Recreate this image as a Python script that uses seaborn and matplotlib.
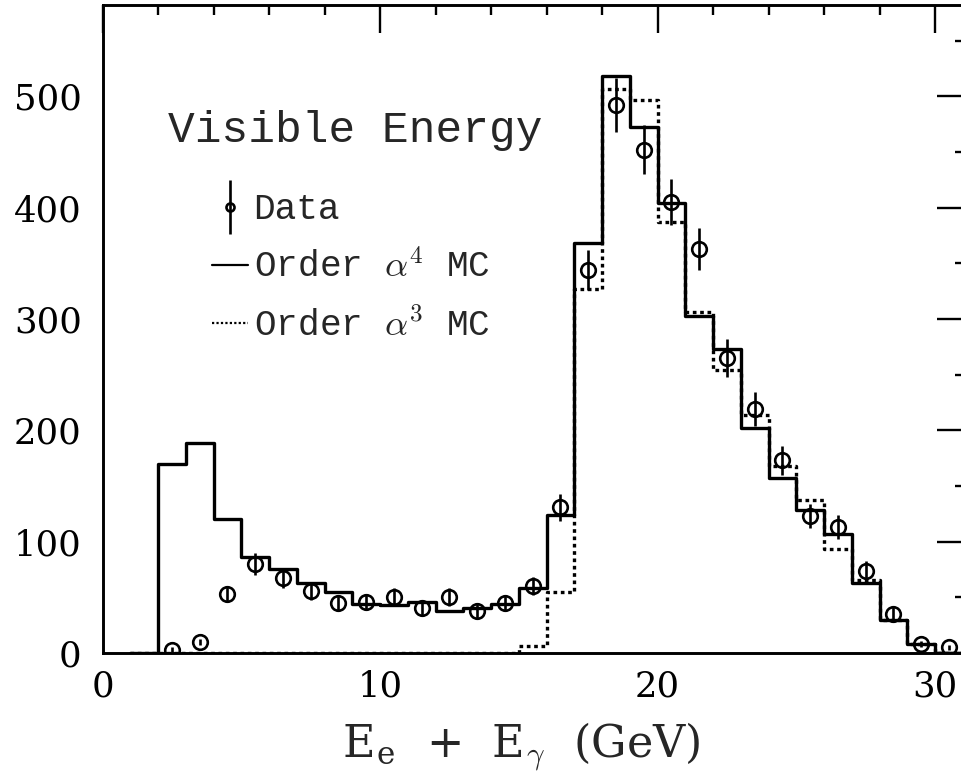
import numpy as np
import pandas as pd
import matplotlib
matplotlib.use("Agg")
import matplotlib.pyplot as plt
import seaborn as sns
from matplotlib.lines import Line2D
from matplotlib.container import ErrorbarContainer
from matplotlib.legend_handler import HandlerErrorbar
from matplotlib.ticker import MultipleLocator

# ---- data ----
bin_centers = [2.5, 3.5, 4.5, 5.5, 6.5, 7.5, 8.5, 9.5, 10.5, 11.5, 12.5, 13.5, 14.5,
               15.5, 16.5, 17.5, 18.5, 19.5, 20.5, 21.5, 22.5, 23.5, 24.5, 25.5,
               26.5, 27.5, 28.5, 29.5]
alpha4_mc = [170, 189, 120, 86, 75, 63, 55, 44, 43, 46, 38, 40, 44,
             58, 124, 368, 518, 472, 404, 303, 273, 202, 157, 128,
             107, 63, 30, 8]
alpha3_mc = [0, 0, 0, 0, 0, 0, 0, 0, 0, 0, 0, 0, 0,
             6, 55, 327, 507, 497, 387, 306, 254, 214, 168, 137,
             93, 66, 30, 8]
data_energy = [2.5, 3.5, 4.5, 5.5, 6.5, 7.5, 8.5, 9.5, 10.5, 11.5, 12.5, 13.5, 14.5,
               15.5, 16.5, 17.5, 18.5, 19.5, 20.5, 21.5, 22.5, 23.5, 24.5, 25.5,
               26.5, 27.5, 28.5, 29.5, 30.5]
data_counts = [3, 10, 53, 80, 67, 56, 45, 46, 50, 40, 50, 38, 45,
               60, 131, 344, 492, 452, 405, 363, 265, 219, 173, 123,
               113, 74, 35, 8, 5]
data_err = [2, 3, 7, 10, 9, 8, 7, 7, 8, 7, 8, 7, 7,
            8, 12, 18, 24, 22, 21, 19, 17, 15, 13, 11,
            11, 9, 6, 3, 2]
x_major = [0, 10, 20, 30]
y_major = [0, 100, 200, 300, 400, 500]
legend_labels = ["Data", r"Order $\alpha^{4}$ MC", r"Order $\alpha^{3}$ MC"]
title_text = "Visible Energy"
x_label = r"E$_\mathregular{e}$  +  E$_\gamma$  (GeV)"

sns.set_style("white")
plt.rcParams["font.family"] = ["DejaVu Serif"]
plt.rcParams["mathtext.fontset"] = "cm"

W, H = 962, 781
fig = plt.figure(figsize=(W / 100, H / 100), dpi=100)
ax = fig.add_axes([102.5 / W, 128 / H, (965 - 102.5) / W, 648 / H])

mc = pd.DataFrame({"energy": bin_centers, "a4": alpha4_mc, "a3": alpha3_mc})
width = bin_centers[1] - bin_centers[0]
brange = (bin_centers[0] - 1.5 * width, bin_centers[-1] + 1.5 * width)

sns.histplot(data=mc, x="energy", weights="a4", binwidth=width, binrange=brange,
             element="step", fill=False, color="black", linewidth=2.4, ax=ax)
sns.histplot(data=mc, x="energy", weights="a3", binwidth=width, binrange=brange,
             element="step", fill=False, color="black", linewidth=2.4,
             linestyle=(0, (1.1, 1.1)), ax=ax)

eb = ax.errorbar(data_energy, data_counts, yerr=data_err, fmt="o", ms=10.5,
                 mfc="none", mec="black", mew=1.9, ecolor="black",
                 elinewidth=1.9, capsize=0, zorder=4)

ax.set_xlim(0, 31.08)
ax.set_ylim(0, 582)
ax.set_xticks(x_major)
ax.set_yticks(y_major)
ax.xaxis.set_minor_locator(MultipleLocator(2))
ax.yaxis.set_minor_locator(MultipleLocator(50))
ax.tick_params(which="both", direction="in", top=True, right=True,
               width=1.7, colors="black", labelsize=25.5)
ax.tick_params(which="major", length=20)
ax.tick_params(which="minor", length=7)
ax.tick_params(axis="x", pad=12)
ax.tick_params(axis="y", pad=15)
for s in ax.spines.values():
    s.set_linewidth(2.1)
    s.set_color("black")

ax.set_ylabel("")
ax.set_xlabel(x_label, fontsize=32, labelpad=12)
ax.xaxis.label.set_x(0.485)

ax.text(0.076, 0.807, title_text, transform=ax.transAxes, ha="left", va="center",
        fontsize=32, family=["Liberation Mono", "DejaVu Sans"])

h_solid = Line2D([], [], color="black", lw=1.6)
h_dot = Line2D([], [], color="black", lw=1.6, linestyle=(0, (1, 1)))
leg = ax.legend([eb, h_solid, h_dot], legend_labels, loc="upper left",
                bbox_to_anchor=(0.127, 0.711), frameon=False, borderaxespad=0,
                borderpad=0, handlelength=1.0, handletextpad=0.15,
                labelspacing=0.64, markerscale=0.55,
                prop={"family": ["Liberation Mono", "DejaVu Sans"], "size": 26},
                handler_map={ErrorbarContainer: HandlerErrorbar(xerr_size=0.55, yerr_size=0.75, numpoints=1)})

fig.savefig("out.png", dpi=100)
